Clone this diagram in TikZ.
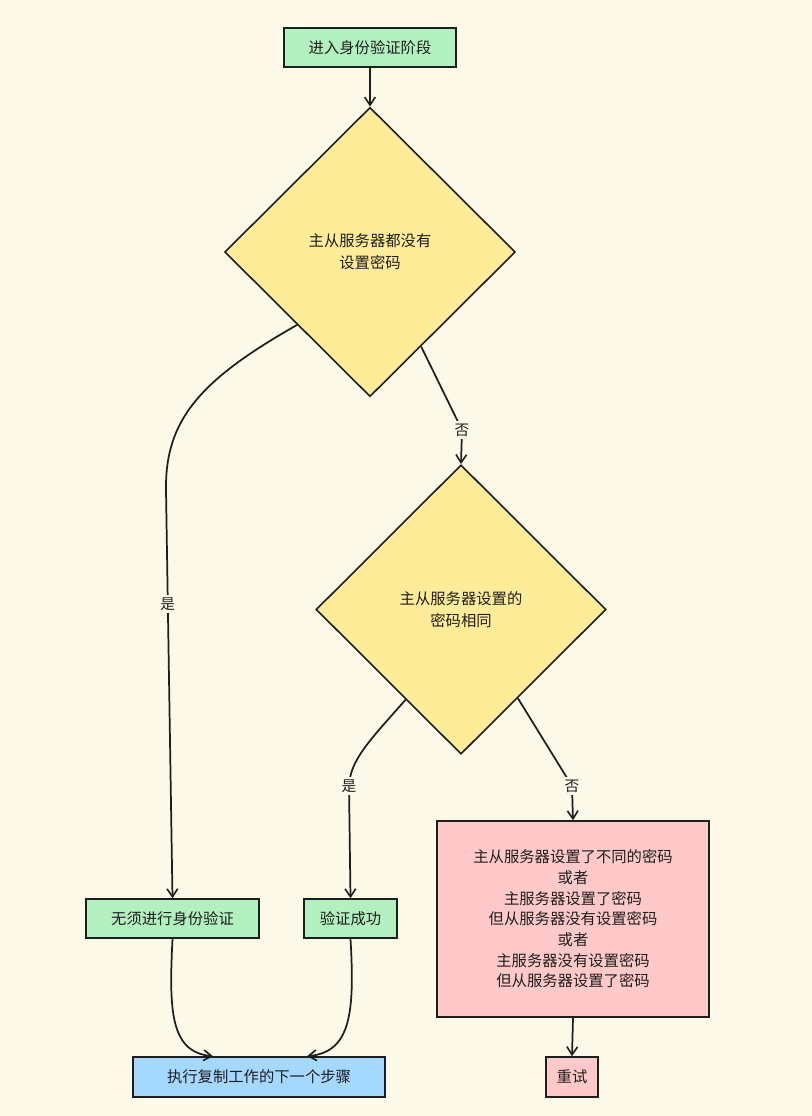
\documentclass[tikz,border=0pt]{standalone}
\usepackage{fontspec}
\setmainfont{Noto Sans CJK SC}
\usetikzlibrary{shapes.geometric,arrows.meta,calc}
\definecolor{bgc}{HTML}{FDF9E9}
\definecolor{greenf}{HTML}{B2F0C0}
\definecolor{yellowf}{HTML}{FFEC99}
\definecolor{pinkf}{HTML}{FFC9C9}
\definecolor{bluef}{HTML}{A5D8FF}
\definecolor{ink}{HTML}{1E1E1E}
\tikzset{
  box/.style={draw=ink, line width=1.2pt, rectangle, inner sep=0pt, align=center, text=ink,
    font=\fontsize{11.5}{15.5}\selectfont},
  dia/.style={draw=ink, line width=1.2pt, diamond, fill=yellowf, inner sep=0pt, align=center, text=ink,
    font=\fontsize{11.5}{16.5}\selectfont},
  arr/.style={draw=ink, line width=1.3pt, -{Straight Barb[length=6pt,width=8pt,line width=1.2pt]}},
  lbl/.style={fill=bgc, inner sep=2pt, text=ink, font=\fontsize{11}{13}\selectfont}
}
\begin{document}
\begin{tikzpicture}[x=0.75pt,y=-0.75pt]
\fill[bgc] (0,0) rectangle (812,1116);
\useasboundingbox (0,0) rectangle (812,1116);

\node[box, fill=greenf, minimum width=129pt, minimum height=29.25pt] (start) at (370,47.5) {进入身份验证阶段};
\node[dia, minimum width=218pt, minimum height=217pt] (d1) at (370,252) {主从服务器都没有\\设置密码};
\node[dia, minimum width=217.5pt, minimum height=217pt] (d2) at (461,609.5) {主从服务器设置的\\密码相同};
\node[box, fill=greenf, minimum width=130pt, minimum height=29.25pt] (wuxu) at (172.5,918.5) {无须进行身份验证};
\node[box, fill=greenf, minimum width=70pt, minimum height=29.25pt] (ok) at (350.5,918.5) {验证成功};
\node[box, fill=bluef, minimum width=189pt, minimum height=30pt] (exec) at (259,1077) {执行复制工作的下一个步骤};
\node[box, fill=pinkf, minimum width=204pt, minimum height=147pt] (fail) at (573,919) {主从服务器设置了不同的密码\\或者\\主服务器设置了密码\\但从服务器没有设置密码\\或者\\主服务器没有设置密码\\但从服务器设置了密码};
\node[box, fill=pinkf, minimum width=39pt, minimum height=30pt] (retry) at (572,1077) {重试};

\draw[arr] (start) -- (d1.north);
\draw[arr] (d1.225) .. controls (200,380) and (165,420) .. (166,490) -- node[lbl, pos=0.28]{是} (wuxu.north);
\draw[arr] ($(d1.east)!0.65!(d1.south)$) -- (462,430) node[lbl]{否} -- (d2.north);
\draw[arr] ($(d2.west)!0.62!(d2.south)$) .. controls (370,740) and (350,760) .. (349,786) node[lbl]{是} -- (ok.north);
\draw[arr] ($(d2.east)!0.61!(d2.south)$) -- (572,786) node[lbl]{否} -- (fail.north);
\draw[arr] (wuxu.south) .. controls (169,1010) and (170,1052) .. ([xshift=-34.5pt]exec.north);
\draw[arr] (ok.south) .. controls (355,1015) and (350,1052) .. ([xshift=36pt]exec.north);
\draw[arr] (fail.south) -- (retry.north);
\end{tikzpicture}
\end{document}
